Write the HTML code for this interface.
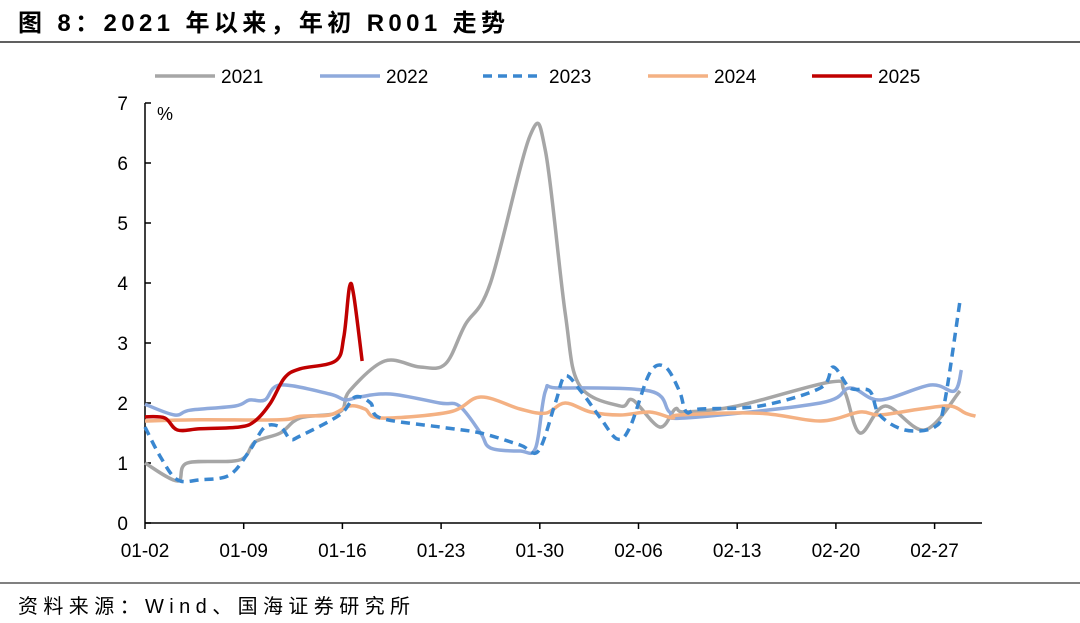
<!DOCTYPE html>
<html><head><meta charset="utf-8"><style>
body{margin:0;background:#fff;width:1080px;height:618px;overflow:hidden;font-family:"Liberation Sans","Noto Sans CJK SC",sans-serif;}
</style></head><body>
<svg id="c" width="1080" height="618" xmlns="http://www.w3.org/2000/svg">
<text x="18" y="31" font-size="24" font-weight="bold" textLength="487" lengthAdjust="spacing" font-family="Liberation Sans,Noto Sans CJK SC,sans-serif">图 8：2021 年以来，年初 R001 走势</text>
<line x1="0" y1="42" x2="1080" y2="42" stroke="#000" stroke-width="1.2"/>
<line x1="0" y1="583" x2="1080" y2="583" stroke="#000" stroke-width="1"/>
<text x="18" y="613" font-size="20" textLength="392" lengthAdjust="spacing" font-family="Liberation Sans,Noto Sans CJK SC,sans-serif">资料来源：Wind、国海证券研究所</text>
<text x="157" y="120" font-size="18">%</text>
<g id="axes"></g><g id="series"></g><g id="legend"></g>
</svg>
<script>
const yTicks=[0,1,2,3,4,5,6,7];
const xTickDays=[0,7,14,21,28,35,42,49,56];
const xTickLabels=["01-02","01-09","01-16","01-23","01-30","02-06","02-13","02-20","02-27"];
const seriesNames=["2021","2022","2023","2024","2025"];
const d2021=[0,2.3,3,6.7,7.8,9.6,11,13.8,14.5,17,19.5,21.3,22.7,24.5,27.3,28.4,29.8,30.8,33.7,34.6,36.5,37.6,38.3,42,48.6,49.6,50.7,52.5,55.3,57.8];
const v2021=[1.0,0.7,1.0,1.05,1.35,1.5,1.75,1.85,2.2,2.7,2.6,2.65,3.3,4.0,6.45,6.2,3.5,2.3,1.95,2.05,1.6,1.9,1.85,1.95,2.35,2.2,1.5,1.95,1.55,2.2];
const d2022=[0,2.1,3.2,6.4,7.4,8.5,9.6,13.1,14.2,15.2,17.4,20.9,22.3,23.8,24.5,26.6,27.7,28.4,29.4,35.8,37.2,38.3,47.9,50,52.1,55.7,57.4,57.9];
const v2022=[1.98,1.8,1.88,1.95,2.05,2.05,2.3,2.15,2.05,2.1,2.15,2.0,1.95,1.5,1.25,1.2,1.25,2.2,2.25,2.2,1.85,1.75,2.0,2.25,2.05,2.3,2.2,2.55];
const d2023=[0,1.1,2.3,3.9,6,7.4,8.5,9.6,10.3,11,13.8,14.9,16,16.7,20.9,23.8,26.6,27.9,29.1,29.8,30.9,32.3,33.5,34.4,35.8,36.9,37.9,38.4,39.4,43.6,47.9,48.8,50,51.4,52.1,53.9,56,56.7,57.8];
const v2023=[1.6,1.1,0.72,0.72,0.8,1.2,1.6,1.6,1.4,1.45,1.8,2.1,2.0,1.75,1.6,1.5,1.3,1.2,2.0,2.45,2.2,1.75,1.4,1.6,2.5,2.6,2.2,1.85,1.9,1.95,2.25,2.6,2.25,2.2,1.8,1.55,1.6,2.0,3.7];
const d2024=[0,3.9,9.6,11,13.1,14.5,15.6,16.7,21.6,23.8,26.6,28.4,29.8,31.6,33.7,35.8,37.4,37.9,43.6,47.9,50.7,52.1,55,57.1,58.2,58.9];
const v2024=[1.7,1.72,1.72,1.78,1.8,1.95,1.9,1.75,1.85,2.1,1.9,1.83,2.0,1.85,1.8,1.85,1.75,1.8,1.83,1.7,1.85,1.8,1.9,1.95,1.83,1.78];
const d2025=[0,1.4,2.3,3.9,6.7,7.8,8.9,9.9,11,13.5,14.1,14.5,14.8,15.4];
const v2025=[1.77,1.75,1.55,1.57,1.6,1.7,2.0,2.42,2.57,2.7,3.1,3.93,3.8,2.7];
const NS="http://www.w3.org/2000/svg";
const X=d=>145+d*14.1, Y=v=>523-v*60;
function mk(t,a,p){const e=document.createElementNS(NS,t);for(const k in a)e.setAttribute(k,a[k]);p.appendChild(e);return e;}
const ax=document.getElementById('axes');
const yl=mk('line',{x1:145,y1:103,x2:145,y2:523,stroke:'#000','stroke-width':1.5},ax);


const xl=mk('line',{x1:145,y1:523,x2:982,y2:523,stroke:'#000','stroke-width':1.5},ax);


yTicks.forEach(v=>{
 mk('line',{x1:145,y1:Y(v),x2:151,y2:Y(v),stroke:'#000','stroke-width':1.5},ax);
 const t=mk('text',{x:128,y:Y(v)+7,'font-size':19,'text-anchor':'end'},ax);t.textContent=v;
 
 
});
xTickDays.forEach((d,i)=>{
 mk('line',{x1:X(d),y1:523,x2:X(d),y2:529,stroke:'#000','stroke-width':1.5},ax);
 const t=mk('text',{x:X(d),y:557,'font-size':19,'text-anchor':'middle'},ax);t.textContent=xTickLabels[i];
 
 
});
function path(ds,vs){const p=ds.map((d,i)=>[X(d),Y(vs[i])]);let s='M'+p[0][0]+','+p[0][1];
 for(let i=0;i<p.length-1;i++){const p0=p[i-1]||p[i],p1=p[i],p2=p[i+1],p3=p[i+2]||p2;
  s+=' C'+(p1[0]+(p2[0]-p0[0])/6)+','+(p1[1]+(p2[1]-p0[1])/6)+' '+(p2[0]-(p3[0]-p1[0])/6)+','+(p2[1]-(p3[1]-p1[1])/6)+' '+p2[0]+','+p2[1];}
 return s;}
const styles=[{c:'#a6a6a6'},{c:'#8faadc'},{c:'#3a87d0',dash:'9,6'},{c:'#f4b183'},{c:'#c00000'}];
const data=[[d2021,v2021],[d2022,v2022],[d2023,v2023],[d2024,v2024],[d2025,v2025]];
const sg=document.getElementById('series');
const order=[0,1,3,2,4];
order.forEach(i=>{
 const a={d:path(data[i][0],data[i][1]),fill:'none',stroke:styles[i].c,'stroke-width':3.5,'stroke-linejoin':'round'};
 if(styles[i].dash)a['stroke-dasharray']=styles[i].dash;
 const e=mk('path',a,sg);
 
 
});
const lg=document.getElementById('legend');
const lx=[155,320,483,648,812];
seriesNames.forEach((n,i)=>{
 const g=mk('g',{},lg);
 
 
 const a={x1:lx[i],y1:76,x2:lx[i]+60,y2:76,stroke:styles[i].c,'stroke-width':3.5};
 if(styles[i].dash)a['stroke-dasharray']=styles[i].dash;
 mk('line',a,g);
 const t=mk('text',{x:lx[i]+66,y:83,'font-size':19},g);t.textContent=n;
});
</script>
</body></html>
